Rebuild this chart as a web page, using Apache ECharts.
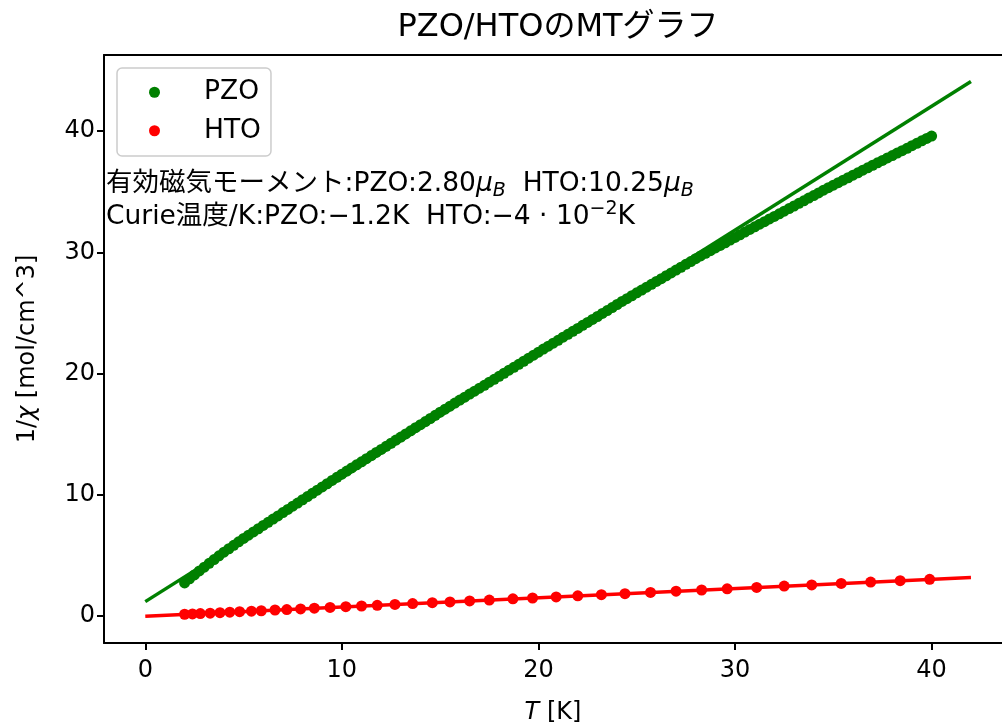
<!DOCTYPE html>
<html><head><meta charset="utf-8">
<script src="https://cdn.jsdelivr.net/npm/echarts@6/dist/echarts.min.js"></script>
<style>html,body{margin:0;padding:0;background:#fff}#c{width:1002px;height:724px}</style>
</head><body><div id="c"></div>
<script>
// ---- data ----
const pzoT = [2,2.25,2.5,2.75,3,3.25,3.5,3.75,4,4.25,4.5,4.75,5,5.25,5.5,5.75,6,6.25,6.5,6.75,7,7.25,7.5,7.75,8,8.25,8.5,8.75,9,9.25,9.5,9.75,10,10.25,10.5,10.75,11,11.25,11.5,11.75,12,12.25,12.5,12.75,13,13.25,13.5,13.75,14,14.25,14.5,14.75,15,15.25,15.5,15.75,16,16.25,16.5,16.75,17,17.25,17.5,17.75,18,18.25,18.5,18.75,19,19.25,19.5,19.75,20,20.25,20.5,20.75,21,21.25,21.5,21.75,22,22.25,22.5,22.75,23,23.25,23.5,23.75,24,24.25,24.5,24.75,25,25.25,25.5,25.75,26,26.25,26.5,26.75,27,27.25,27.5,27.75,28,28.25,28.5,28.75,29,29.25,29.5,29.75,30,30.25,30.5,30.75,31,31.25,31.5,31.75,32,32.25,32.5,32.75,33,33.25,33.5,33.75,34,34.25,34.5,34.75,35,35.25,35.5,35.75,36,36.25,36.5,36.75,37,37.25,37.5,37.75,38,38.25,38.5,38.75,39,39.25,39.5,39.75,40];
const pzoVal = [2.74,3.08,3.40,3.73,4.04,4.36,4.67,4.98,5.28,5.56,5.84,6.13,6.41,6.68,6.95,7.21,7.48,7.74,8.01,8.27,8.54,8.80,9.07,9.33,9.60,9.86,10.13,10.39,10.66,10.92,11.19,11.45,11.71,11.97,12.22,12.48,12.73,12.99,13.24,13.50,13.75,14.01,14.26,14.52,14.77,15.03,15.28,15.54,15.79,16.05,16.30,16.56,16.82,17.07,17.32,17.57,17.82,18.06,18.31,18.55,18.80,19.04,19.29,19.53,19.78,20.03,20.28,20.52,20.77,21.02,21.27,21.52,21.77,22.02,22.26,22.51,22.75,23.00,23.24,23.49,23.73,23.98,24.22,24.47,24.71,24.96,25.20,25.45,25.70,25.95,26.18,26.42,26.66,26.89,27.13,27.36,27.60,27.83,28.07,28.30,28.54,28.77,29.01,29.24,29.48,29.70,29.92,30.14,30.36,30.57,30.79,31.01,31.23,31.45,31.67,31.89,32.10,32.32,32.53,32.75,32.96,33.18,33.39,33.61,33.82,34.04,34.25,34.47,34.68,34.90,35.12,35.33,35.54,35.74,35.95,36.15,36.36,36.56,36.77,36.97,37.18,37.38,37.58,37.78,37.98,38.18,38.38,38.58,38.79,38.99,39.19,39.39,39.59];
const htoT = [2.0,2.4,2.8,3.3,3.8,4.3,4.8,5.4,5.9,6.6,7.2,7.9,8.6,9.4,10.2,11.0,11.8,12.7,13.6,14.6,15.5,16.5,17.5,18.7,19.7,20.9,22.0,23.2,24.4,25.7,27.0,28.3,29.6,31.1,32.5,33.9,35.4,36.9,38.4,39.9];
const htoVal = [0.16,0.19,0.22,0.25,0.29,0.33,0.37,0.41,0.45,0.51,0.55,0.60,0.66,0.72,0.78,0.84,0.90,0.97,1.04,1.11,1.18,1.26,1.33,1.43,1.50,1.59,1.68,1.77,1.86,1.96,2.06,2.16,2.26,2.37,2.48,2.58,2.70,2.81,2.93,3.04];
const fitT = [0, 42];
const pzoFit = [1.2, 44.08];
const htoFit = [0.003, 3.2];
const xTicks = [0, 10, 20, 30, 40];
const yTicks = [0, 10, 20, 30, 40];
const seriesNames = ['PZO', 'HTO'];
const titleText = 'PZO/HTOのMTグラフ';
const note1 = '有効磁気モーメント:PZO:2.80{mu|μ}{sub|B}  HTO:10.25{mu|μ}{sub|B}';
const note2 = 'Curie温度/K:PZO:−1.2K  HTO:−4 · 10{sup|−2}K';
const yName = '1/{i|χ} [mol/cm^3]';
const xName = '{i|T} [K]';

// ---- chart ----
const FF = "'DejaVu Sans', 'Noto Sans CJK JP', sans-serif";
const chart = echarts.init(document.getElementById('c'), null, {renderer: 'canvas'});
const pair = (xs, ys) => xs.map((x, i) => [x, ys[i]]);
const NF = 26.5;
const noteRich = {
  mu: {fontStyle: 'italic', fontSize: NF, lineHeight: 34, fontFamily: FF, fill: '#000'},
  sub: {fontStyle: 'italic', fontSize: 19, lineHeight: 19, verticalAlign: 'bottom', fontFamily: FF, fill: '#000'},
  sup: {fontSize: 19, lineHeight: 19, verticalAlign: 'top', fontFamily: FF, fill: '#000'}
};
const X_MIN = -2.1, X_MAX = 43.58, Y_MIN = -2.21, Y_MAX = 46.27;
const axisName = {fontSize: 24, fontFamily: FF, color: '#000', rich: {i: {fontStyle: 'italic', fontSize: 24, fontFamily: FF, color: '#000'}}};
chart.setOption({
  animation: false,
  backgroundColor: '#fff',
  grid: {left: 104, top: 55, right: 0, bottom: 81, show: false, containLabel: false, outerBoundsMode: 'none'},
  legend: {
    data: seriesNames, orient: 'vertical', left: 117, top: 68,
    padding: [11, 10, 12, 32], itemGap: 12, itemWidth: 11, itemHeight: 11, icon: 'circle',
    borderColor: '#cccccc', borderWidth: 1.5, borderRadius: 5, backgroundColor: '#fff',
    textStyle: {fontSize: NF, fontFamily: FF, color: '#000', lineHeight: 26, padding: [0, 0, 0, 39]}
  },
  xAxis: [{
    type: 'value', min: X_MIN, max: X_MAX,
    name: xName, nameLocation: 'middle', nameGap: 58, nameTextStyle: axisName,
    axisLine: {show: true, onZero: false, lineStyle: {color: '#000', width: 2}},
    axisTick: {show: true, inside: false, length: 7, lineStyle: {color: '#000', width: 2}, customValues: xTicks},
    axisLabel: {fontSize: 24, fontFamily: FF, color: '#000', margin: 16, customValues: xTicks},
    splitLine: {show: false}
  }, {
    type: 'value', position: 'top', min: X_MIN, max: X_MAX,
    axisLine: {show: true, onZero: false, lineStyle: {color: '#000', width: 2}},
    axisTick: {show: false}, axisLabel: {show: false}, splitLine: {show: false}
  }],
  yAxis: {
    type: 'value', min: Y_MIN, max: Y_MAX,
    name: yName, nameLocation: 'middle', nameGap: 64, nameRotate: 90, nameTextStyle: axisName,
    axisLine: {show: true, onZero: false, lineStyle: {color: '#000', width: 2}},
    axisTick: {show: true, inside: false, length: 7, lineStyle: {color: '#000', width: 2}, customValues: yTicks},
    axisLabel: {fontSize: 24, fontFamily: FF, color: '#000', margin: 9, customValues: yTicks},
    splitLine: {show: false}
  },
  graphic: [
    {type: 'text', x: 558, y: 28, style: {text: titleText, fontSize: 32, fontFamily: FF, fill: '#000', align: 'center', verticalAlign: 'middle'}},
    {type: 'text', x: 106, y: 184, style: {text: note1, fontSize: NF, lineHeight: 34, fontFamily: FF, fill: '#000', align: 'left', verticalAlign: 'middle', rich: noteRich}},
    {type: 'text', x: 106, y: 217, style: {text: note2, fontSize: NF, lineHeight: 34, fontFamily: FF, fill: '#000', align: 'left', verticalAlign: 'middle', rich: noteRich}}
  ],
  series: [
    {name: seriesNames[0], type: 'scatter', data: pair(pzoT, pzoVal), symbol: 'circle', symbolSize: 11, itemStyle: {color: '#008000', opacity: 1}, z: 2},
    {name: seriesNames[1], type: 'scatter', data: pair(htoT, htoVal), symbol: 'circle', symbolSize: 11, itemStyle: {color: '#ff0000', opacity: 1}, z: 2},
    {name: 'PZO fit', type: 'line', data: pair(fitT, pzoFit), symbol: 'none', lineStyle: {color: '#008000', width: 3.5}, itemStyle: {color: '#008000'}, z: 3, silent: true},
    {name: 'HTO fit', type: 'line', data: pair(fitT, htoFit), symbol: 'none', lineStyle: {color: '#ff0000', width: 3.5}, itemStyle: {color: '#ff0000'}, z: 3, silent: true}
  ]
});
</script>
</body></html>
